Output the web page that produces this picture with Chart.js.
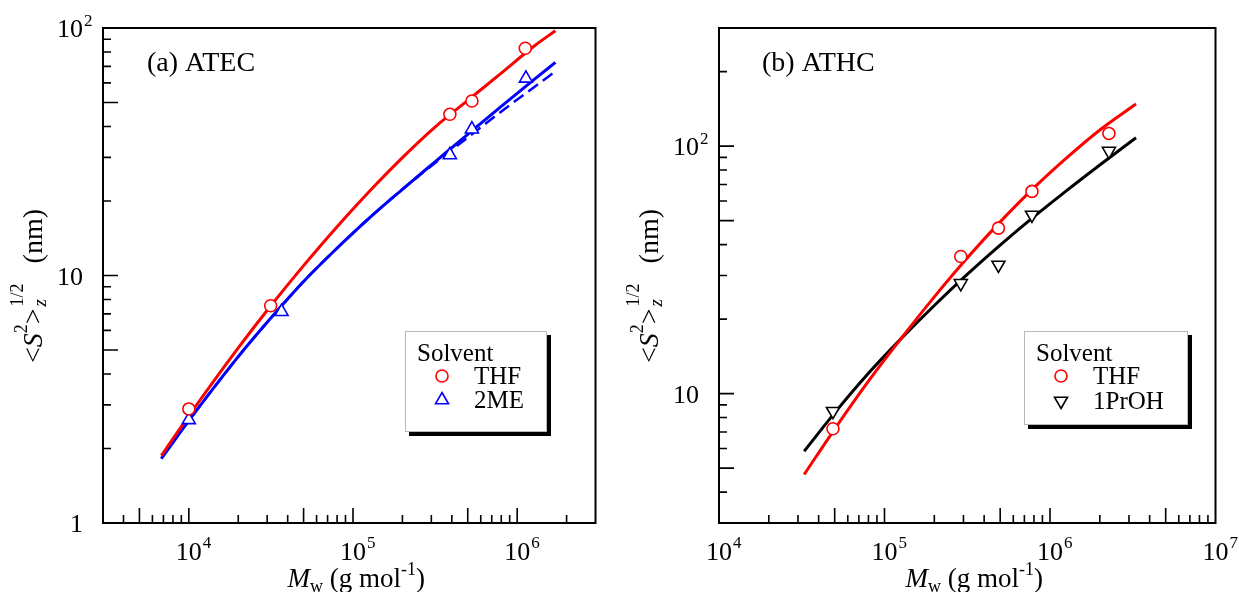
<!DOCTYPE html>
<html>
<head>
<meta charset="utf-8">
<script src="https://cdn.jsdelivr.net/npm/chart.js@4.4.1/dist/chart.umd.min.js"></script>
<style>
    body { margin: 0; background: #fff; }
    #wrap { position: relative; width: 1239px; height: 592px; }
    canvas { position: absolute; top: 0; }
    #chartA { left: 0; }
    #chartB { left: 620px; }
</style>
</head>
<body>
<div id="wrap">
    <canvas id="chartA" width="620" height="592"></canvas>
    <canvas id="chartB" width="619" height="592"></canvas>
</div>
<script>
// (a) ATEC : measured points
const mwATEC_THF = [1.0e4, 3.15e4, 3.89e5, 5.30e5, 1.12e6];
const rgATEC_THF = [2.89, 7.55, 44.8, 50.7, 82.8];
const mwATEC_2ME = [1.0e4, 3.67e4, 3.89e5, 5.30e5, 1.13e6];
const rgATEC_2ME = [2.61, 7.14, 30.7, 39.0, 62.6];

// (a) ATEC : theoretical curves
const mwATEC_calc = [6800, 1.0e4, 2.0e4, 3.16e4, 5.0e4, 7.9e4, 1.26e5, 2.0e5, 3.16e5, 5.0e5, 7.9e5, 1.26e6, 1.71e6];
const rgATEC_calcTHF = [1.87, 2.71, 5.10, 7.55, 10.96, 15.6, 21.9, 29.96, 39.8, 51.0, 65.3, 84.2, 97.5];
const rgATEC_calc2ME = [1.82, 2.59, 4.70, 6.73, 9.46, 12.8, 17.1, 22.3, 28.8, 37.2, 47.9, 61.7, 72.6];
const rgATEC_calc2MEalt = [1.82, 2.59, 4.70, 6.73, 9.46, 12.8, 17.1, 22.3, 28.5, 36.1, 45.7, 57.5, 66.8];

// (b) ATHC : measured points
const mwATHC = [4.88e4, 2.89e5, 4.88e5, 7.78e5, 2.27e6];
const rgATHC_THF = [7.21, 35.8, 46.6, 65.6, 112.5];
const rgATHC_1PrOH = [8.49, 27.9, 33.1, 52.7, 95.5];

// (b) ATHC : theoretical curves
const mwATHC_calc = [3.27e4, 5.0e4, 7.9e4, 1.26e5, 2.0e5, 3.16e5, 5.0e5, 7.9e5, 1.26e6, 2.0e6, 3.31e6];
const rgATHC_calcTHF = [4.71, 7.19, 11.1, 16.7, 24.6, 35.3, 49.4, 67.3, 89.6, 116.2, 148.0];
const rgATHC_calc1PrOH = [5.85, 8.36, 11.97, 16.67, 22.7, 30.3, 39.8, 51.5, 66.1, 83.9, 108.1];

// tick labels: [value, mantissa text, exponent text]
const xTicksATEC = [[1e4, '10', '4'], [1e5, '10', '5'], [1e6, '10', '6']];
const yTicksATEC = [[1, '1', ''], [10, '10', ''], [100, '10', '2']];
const xTicksATHC = [[1e4, '10', '4'], [1e5, '10', '5'], [1e6, '10', '6'], [1e7, '10', '7']];
const yTicksATHC = [[10, '10', ''], [100, '10', '2']];

const RED = '#ff0000';
const BLUE = '#0000ff';
const BLACK = '#000000';
const FONT = '"Liberation Serif", "Times New Roman", serif';

const pts = (xs, ys) => xs.map((x, i) => ({ x: x, y: ys[i] }));

const curve = (xs, ys, color, dash) => ({
    data: pts(xs, ys),
    showLine: true,
    pointRadius: 0,
    borderColor: color,
    borderWidth: dash ? 2.5 : 3,
    borderDash: dash || [],
    cubicInterpolationMode: 'monotone',
    order: 2
});

const marks = (xs, ys, color, style, radius, rotation) => ({
    data: pts(xs, ys),
    showLine: false,
    pointStyle: style,
    pointRadius: radius,
    pointRotation: rotation || 0,
    pointBorderColor: color,
    pointBackgroundColor: '#ffffff',
    pointBorderWidth: 1.6,
    order: 1
});

// text pieces laid one after another on a baseline
const drawRun = (ctx, parts, x, y) => {
    let cx = x;
    parts.forEach((p) => {
        ctx.font = (p.italic ? 'italic ' : '') + p.size + 'px ' + FONT;
        ctx.fillText(p.text, cx, y + (p.dy || 0));
        if (!p.stay) cx += ctx.measureText(p.text).width + (p.gap || 0);
    });
    return cx;
};
const runWidth = (ctx, parts) => {
    let w = 0;
    parts.forEach((p) => {
        ctx.font = (p.italic ? 'italic ' : '') + p.size + 'px ' + FONT;
        if (!p.stay) w += ctx.measureText(p.text).width + (p.gap || 0);
    });
    return w;
};

const symbol = (ctx, style, color, x, y) => {
    ctx.save();
    ctx.strokeStyle = color;
    ctx.fillStyle = '#fff';
    ctx.lineWidth = 1.6;
    ctx.beginPath();
    if (style === 'circle') {
        ctx.arc(x, y, 6, 0, Math.PI * 2);
    } else {
        const r = 7.5;
        const s = style === 'down' ? -1 : 1;
        ctx.moveTo(x, y - s * r);
        ctx.lineTo(x + r * 0.866, y + s * r * 0.5);
        ctx.lineTo(x - r * 0.866, y + s * r * 0.5);
        ctx.closePath();
    }
    ctx.fill();
    ctx.stroke();
    ctx.restore();
};

// frame, inward ticks, tick labels, axis titles, panel label and legend box
const decorations = (panel) => ({
    id: 'decorations',
    afterDraw: (chart) => {
        const ctx = chart.ctx;
        const a = chart.chartArea;
        const xs = chart.scales.x;
        const ys = chart.scales.y;
        ctx.save();
        ctx.strokeStyle = BLACK;
        ctx.fillStyle = BLACK;

        ctx.lineWidth = 1.6;
        const logTicks = (scale, lo, hi, fn) => {
            for (let d = Math.floor(Math.log10(lo)); d <= Math.ceil(Math.log10(hi)); d++) {
                for (let m = 1; m <= 9; m++) {
                    const v = m * Math.pow(10, d);
                    if (v <= lo * 1.0001 || v >= hi * 0.9999) continue;
                    fn(scale.getPixelForValue(v), (m === 1 || m === 5) ? 15 : 8);
                }
            }
        };
        ctx.beginPath();
        logTicks(xs, panel.xMin, panel.xMax, (px, len) => {
            ctx.moveTo(px, a.bottom);
            ctx.lineTo(px, a.bottom - len);
        });
        logTicks(ys, panel.yMin, panel.yMax, (py, len) => {
            ctx.moveTo(a.left, py);
            ctx.lineTo(a.left + len, py);
        });
        ctx.stroke();

        ctx.lineWidth = 2;
        ctx.strokeRect(a.left, a.top, a.right - a.left, a.bottom - a.top);

        // tick labels
        ctx.textBaseline = 'alphabetic';
        panel.xTicks.forEach(([v, base, exp]) => {
            const px = xs.getPixelForValue(v);
            ctx.font = '26px ' + FONT;
            const w = ctx.measureText(base).width;
            ctx.fillText(base, px - w / 2, 560);
            if (exp) {
                ctx.font = '17px ' + FONT;
                ctx.fillText(exp, px + w / 2 + 1, 548);
            }
        });
        panel.yTicks.forEach(([v, base, exp]) => {
            const py = ys.getPixelForValue(v);
            ctx.font = '26px ' + FONT;
            const w = ctx.measureText(base).width;
            const right = a.left - 20;
            ctx.fillText(base, right - w, py + 9);
            if (exp) {
                ctx.font = '17px ' + FONT;
                ctx.fillText(exp, right + 1, py - 2);
            }
        });

        // x title
        const xTitle = [
            { text: 'M', size: 27, italic: true },
            { text: 'w', size: 18, dy: 5 },
            { text: ' (g mol', size: 27 },
            { text: '-1', size: 18, dy: -12 },
            { text: ')', size: 27 }
        ];
        const cx = (a.left + a.right) / 2 + 7;
        drawRun(ctx, xTitle, cx - runWidth(ctx, xTitle) / 2, 587);

        // y title, written upwards
        ctx.save();
        ctx.translate(a.left - 61, 363);
        ctx.rotate(-Math.PI / 2);
        drawRun(ctx, [
            { text: '<', size: 28 },
            { text: 'S', size: 28, italic: true },
            { text: '2', size: 18, dy: -15 },
            { text: '>', size: 28, gap: 2 },
            { text: 'z', size: 19, italic: true, dy: 4, stay: true },
            { text: '1/2', size: 18, dy: -19, gap: 20 },
            { text: '(nm)', size: 28 }
        ], 0, 0);
        ctx.restore();

        // panel label
        ctx.font = '28px ' + FONT;
        ctx.fillText(panel.label, panel.labelX, 71);

        // legend
        const L = panel.legend;
        ctx.fillStyle = BLACK;
        ctx.fillRect(L.x + 4, L.y + 4, L.w, L.h);
        ctx.fillStyle = '#ffffff';
        ctx.fillRect(L.x, L.y, L.w, L.h);
        ctx.strokeStyle = '#b8b8b8';
        ctx.lineWidth = 1;
        ctx.strokeRect(L.x + 0.5, L.y + 0.5, L.w - 1, L.h - 1);
        ctx.fillStyle = BLACK;
        ctx.font = '25px ' + FONT;
        ctx.fillText('Solvent', L.x + 12, 361);
        L.entries.forEach((e, i) => {
            const yy = L.rowY[i];
            symbol(ctx, e.style, e.color, L.x + 37, yy);
            ctx.fillStyle = BLACK;
            ctx.font = '25px ' + FONT;
            ctx.fillText(e.text, L.x + 69, yy + 8);
        });
        ctx.restore();
    }
});

const makePanel = (id, panel) => new Chart(document.getElementById(id), {
    type: 'scatter',
    data: { datasets: panel.datasets },
    options: {
        responsive: false,
        animation: false,
        events: [],
        layout: { padding: panel.padding },
        plugins: { legend: { display: false }, tooltip: { enabled: false } },
        scales: {
            x: {
                type: 'logarithmic', min: panel.xMin, max: panel.xMax,
                grid: { display: false, drawTicks: false }, border: { display: false },
                ticks: { display: false }
            },
            y: {
                type: 'logarithmic', min: panel.yMin, max: panel.yMax,
                grid: { display: false, drawTicks: false }, border: { display: false },
                ticks: { display: false }
            }
        }
    },
    plugins: [decorations(panel)]
});

makePanel('chartA', {
    xMin: 3000, xMax: 3e6, yMin: 1, yMax: 100,
    padding: { left: 103, right: 24.5, top: 28, bottom: 69 },
    xTicks: xTicksATEC, yTicks: yTicksATEC,
    label: '(a) ATEC', labelX: 147,
    legend: {
        x: 405, y: 331, w: 142, h: 101, rowY: [376, 400],
        entries: [
            { style: 'circle', color: RED, text: 'THF' },
            { style: 'up', color: BLUE, text: '2ME' }
        ]
    },
    datasets: [
        marks(mwATEC_THF, rgATEC_THF, RED, 'circle', 6),
        marks(mwATEC_2ME, rgATEC_2ME, BLUE, 'triangle', 7.5),
        curve(mwATEC_calc, rgATEC_calcTHF, RED),
        curve(mwATEC_calc, rgATEC_calc2MEalt, BLUE, [12, 6]),
        curve(mwATEC_calc, rgATEC_calc2ME, BLUE)
    ]
});

makePanel('chartB', {
    xMin: 1e4, xMax: 1e7, yMin: 3, yMax: 300,
    padding: { left: 99, right: 23.5, top: 28, bottom: 69 },
    xTicks: xTicksATHC, yTicks: yTicksATHC,
    label: '(b) ATHC', labelX: 142,
    legend: {
        x: 404, y: 331, w: 164, h: 94, rowY: [376, 401],
        entries: [
            { style: 'circle', color: RED, text: 'THF' },
            { style: 'down', color: BLACK, text: '1PrOH' }
        ]
    },
    datasets: [
        marks(mwATHC, rgATHC_THF, RED, 'circle', 6),
        marks(mwATHC, rgATHC_1PrOH, BLACK, 'triangle', 7.5, 180),
        curve(mwATHC_calc, rgATHC_calcTHF, RED),
        curve(mwATHC_calc, rgATHC_calc1PrOH, BLACK)
    ]
});
</script>
</body>
</html>
